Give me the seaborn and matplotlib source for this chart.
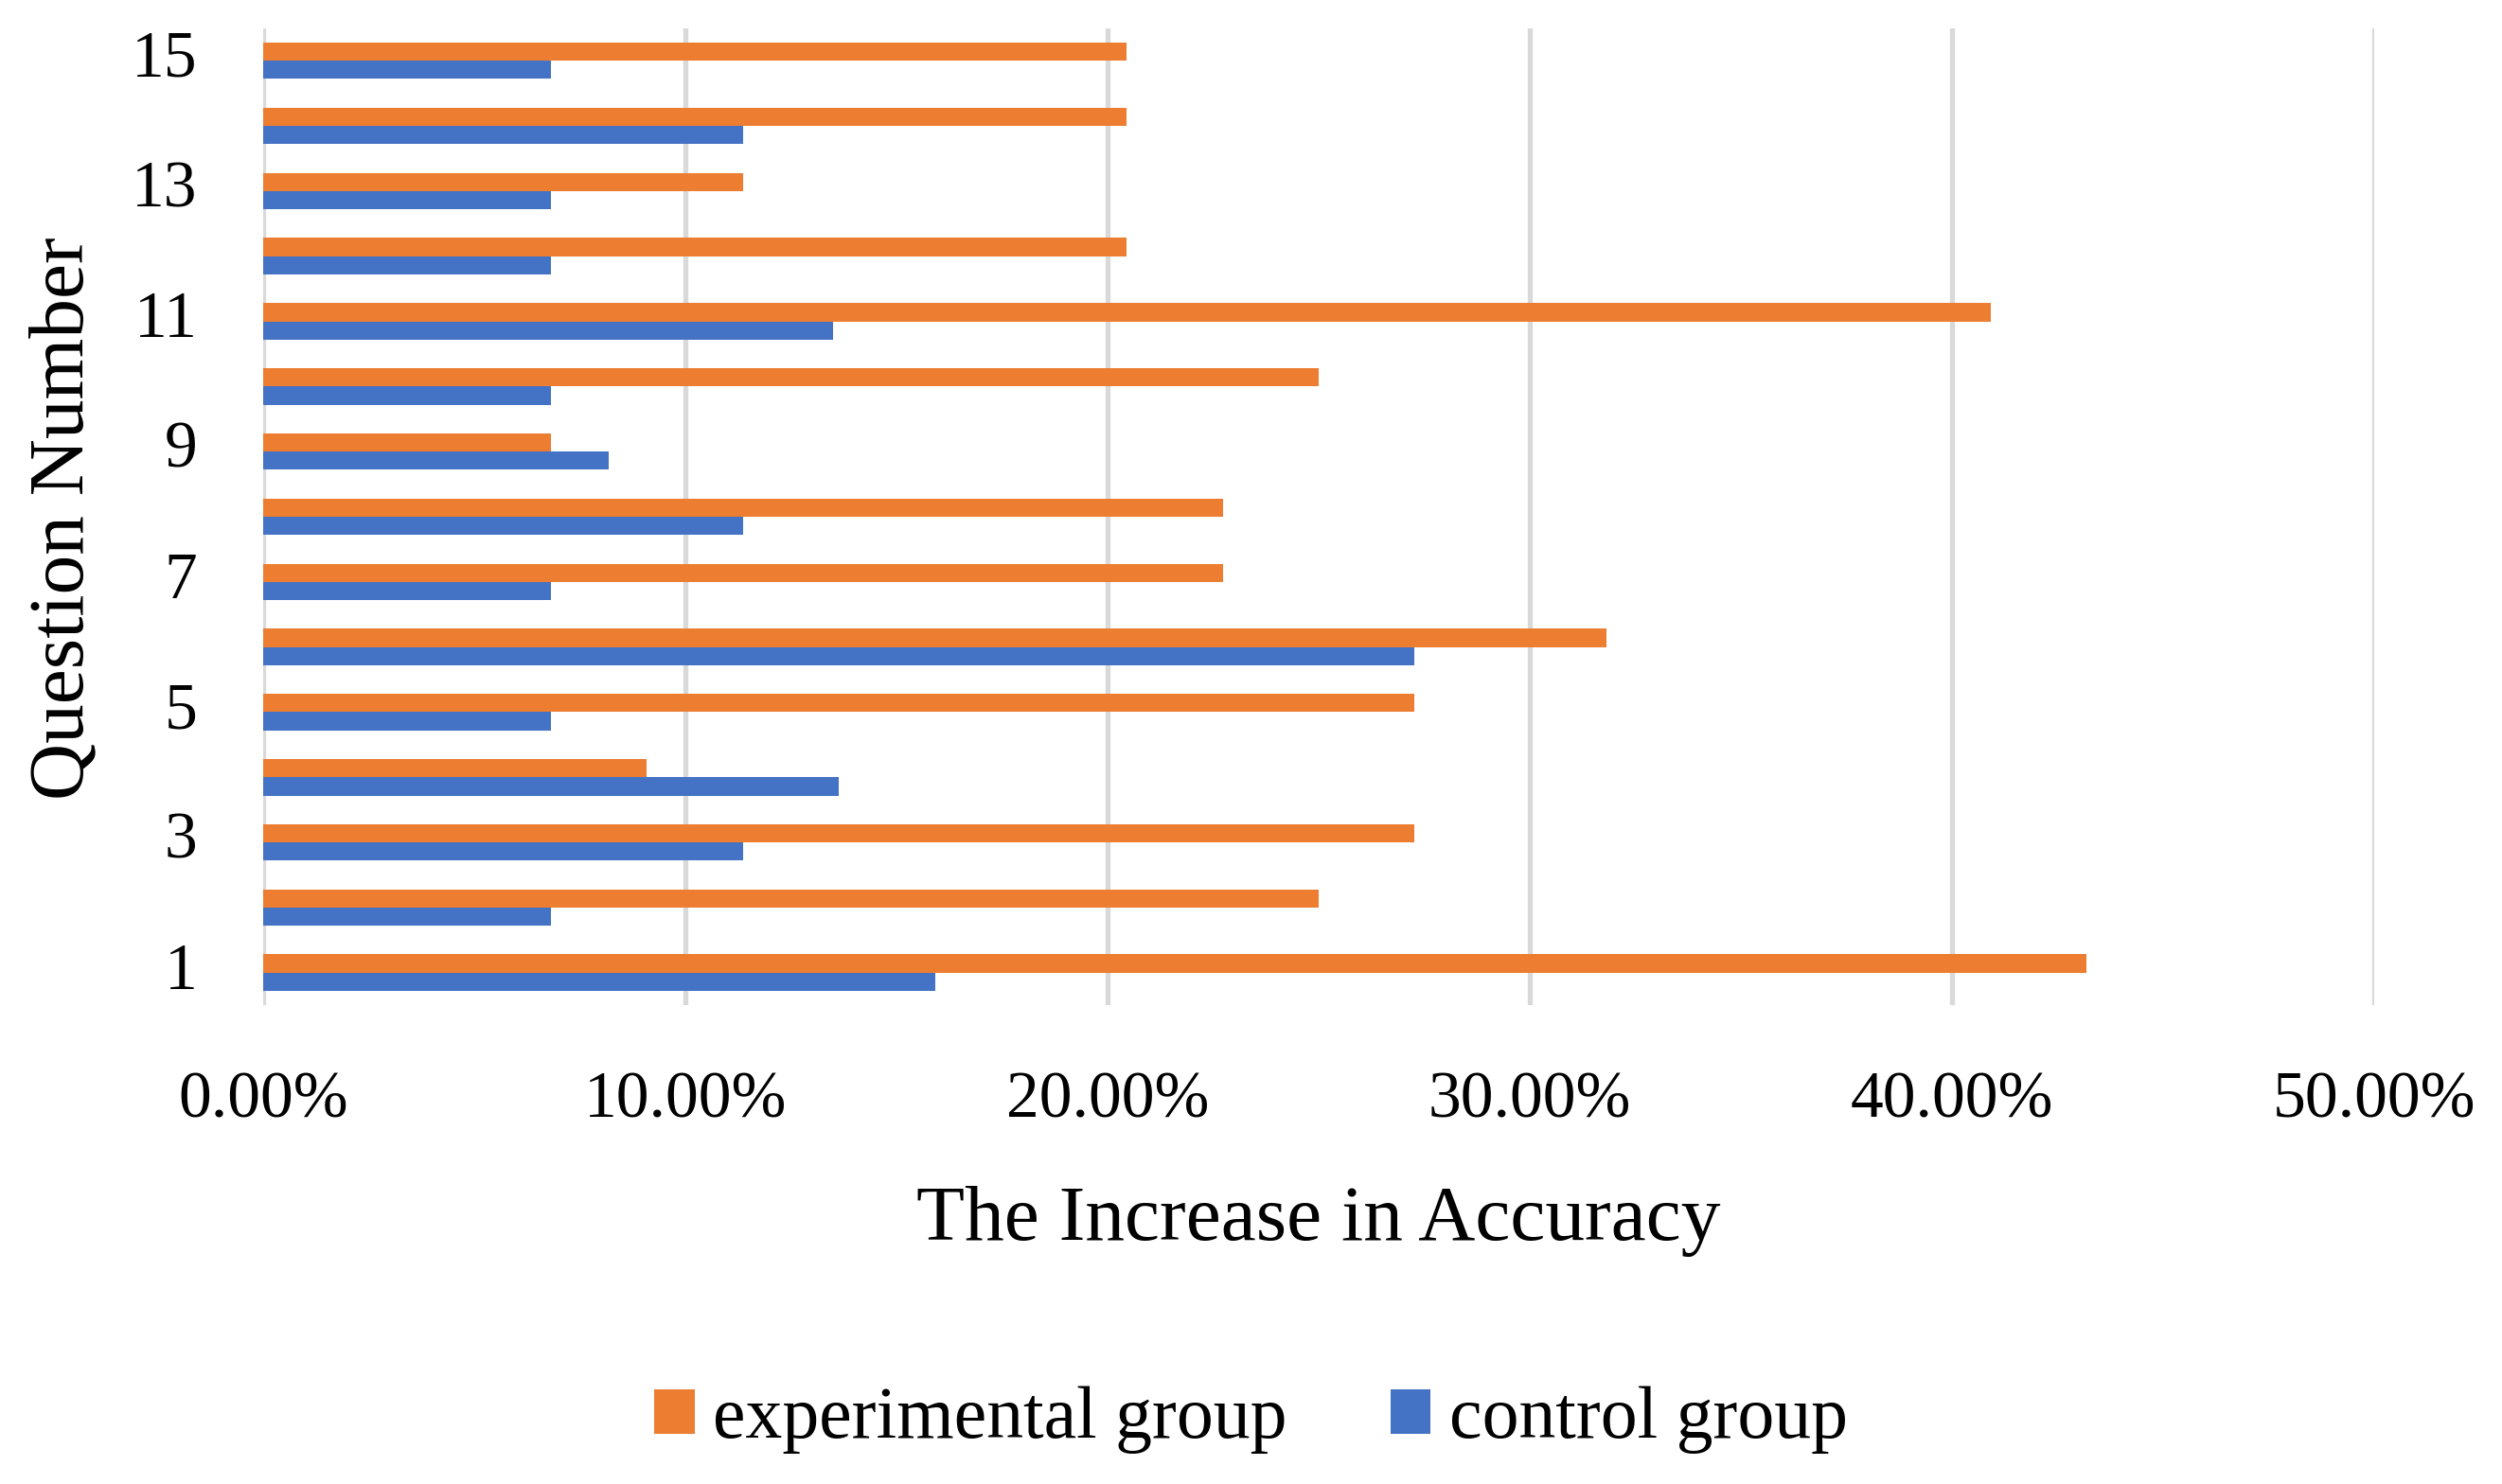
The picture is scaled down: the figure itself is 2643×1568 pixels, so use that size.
import matplotlib
matplotlib.use("Agg")
import matplotlib.pyplot as plt
import seaborn as sns
import pandas as pd

questions = [str(i) for i in range(1, 16)]
experimental = [43.18, 25.00, 27.27, 9.09, 27.27, 31.82, 22.73, 22.73, 6.82, 25.00, 40.91, 20.45, 11.36, 20.45, 20.45]
control = [15.91, 6.82, 11.36, 13.64, 6.82, 27.27, 6.82, 11.36, 8.18, 6.82, 13.50, 6.82, 6.82, 11.36, 6.82]
groups = ["experimental group", "control group"]
colors = ["#ED7D31", "#4472C4"]
xticks = [0.0, 10.0, 20.0, 30.0, 40.0, 50.0]

rows = []
for q, e, c in zip(questions, experimental, control):
    rows.append({"Question": q, "Group": groups[0], "Value": e / 100})
    rows.append({"Question": q, "Group": groups[1], "Value": c / 100})
df = pd.DataFrame(rows)

sns.set_theme(style="white")
plt.rcParams["font.family"] = ["Liberation Serif", "DejaVu Serif"]
plt.rcParams["text.color"] = "black"

fig = plt.figure(figsize=(26.43, 15.68), dpi=100)
ax = fig.add_axes([0.1052, 0.3226, 0.949 - 0.1052, 0.981 - 0.3226])

sns.barplot(data=df, y="Question", x="Value", hue="Group", orient="h",
            order=questions[::-1], hue_order=groups, palette=colors,
            saturation=1, width=0.56, linewidth=0, ax=ax, errorbar=None)

handles, labels = ax.get_legend_handles_labels()
if ax.get_legend() is not None:
    ax.get_legend().remove()

ax.set_xlim(0, 0.5)
ax.set_xticks([t / 100 for t in xticks])
ax.set_xticklabels([f"{t:.2f}%" for t in xticks])
ax.set_yticks(range(len(questions)))
ax.set_yticklabels([q if int(q) % 2 == 1 else "" for q in questions[::-1]], va="center")

ax.xaxis.grid(True, color="#D9D9D9", linewidth=3.8)
ax.yaxis.grid(False)
ax.set_axisbelow(True)
for s in ax.spines.values():
    s.set_visible(False)
ax.tick_params(axis="both", length=0, labelsize=50, colors="black", pad=50)

ax.set_xlabel("The Increase in Accuracy", fontsize=60, color="black")
ax.set_ylabel("Question Number", fontsize=60, color="black")
ax.xaxis.set_label_coords(0.527, 0.177, transform=fig.transFigure)
ax.xaxis.label.set_va("center")
ax.yaxis.set_label_coords(0.0255, 0.651, transform=fig.transFigure)
ax.yaxis.label.set_va("center")

fig.legend(handles, labels, loc="center", bbox_to_anchor=(0.5, 0.043), ncol=2,
           frameon=False, fontsize=56, handlelength=0.55, handleheight=0.55,
           handletextpad=0.25, columnspacing=1.4, labelcolor="black")

fig.savefig("out.png", dpi=100, facecolor="white")
